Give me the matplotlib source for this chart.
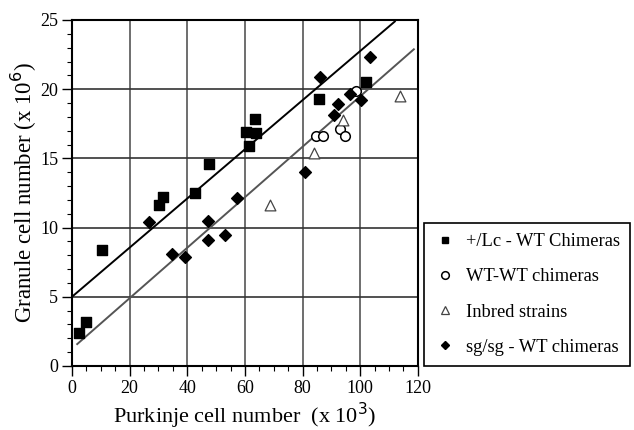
import matplotlib.pyplot as plt
import numpy as np
from matplotlib.ticker import MultipleLocator
from matplotlib.lines import Line2D

plt.rcParams['font.family'] = ['Liberation Serif', 'DejaVu Serif']

# +/Lc - WT chimeras
lc_x = [2.5, 4.9, 10.3, 30.3, 31.7, 42.8, 47.5, 60.4, 61.5, 63.5, 63.8, 85.6, 101.9]
lc_y = [2.4, 3.2, 8.4, 11.6, 12.2, 12.5, 14.6, 16.9, 15.9, 17.85, 16.8, 19.3, 20.5]

# WT-WT chimeras
wt_x = [84.6, 87.2, 93.0, 94.7, 98.5]
wt_y = [16.6, 16.6, 17.1, 16.6, 19.85]

# Inbred strains
inb_x = [68.7, 84.0, 93.9, 113.8]
inb_y = [11.6, 15.4, 17.8, 19.5]

# sg/sg - WT chimeras
sg_x = [26.7, 34.7, 39.2, 47.1, 47.1, 53.1, 57.3, 80.9, 86.2, 90.9, 92.3, 96.4, 100.2, 103.4]
sg_y = [10.4, 8.1, 7.85, 10.45, 9.1, 9.45, 12.15, 14.0, 20.9, 18.1, 18.95, 19.65, 19.2, 22.35]

# regression lines (intercept, slope, x range)
fit_lc = (5.0, 0.1776, 0, 112)
fit_rest = (1.25, 0.1824, 1.8, 118.6)

fig = plt.figure(figsize=(6.34, 4.30), dpi=100)
ax = fig.add_axes([0.1136, 0.149, 0.5455, 0.8045])

for xv in range(20, 120, 20):
    ax.axvline(xv, color='#555555', lw=1.2, zorder=0)
for yv in range(5, 25, 5):
    ax.axhline(yv, color='#333333', lw=1.2, zorder=0)

xs = np.linspace(fit_lc[2], fit_lc[3], 50)
ax.plot(xs, fit_lc[0] + fit_lc[1] * xs, color='black', lw=1.4, zorder=1)
xs = np.linspace(fit_rest[2], fit_rest[3], 50)
ax.plot(xs, fit_rest[0] + fit_rest[1] * xs, color='#555555', lw=1.4, zorder=1)

ax.scatter(lc_x, lc_y, marker='s', s=55, color='black', zorder=3)
ax.scatter(wt_x, wt_y, marker='o', s=48, facecolor='white', edgecolor='black',
           linewidth=1.1, zorder=3)
ax.scatter(inb_x, inb_y, marker='^', s=60, facecolor='white', edgecolor='#444444',
           linewidth=0.9, zorder=3)
ax.scatter(sg_x, sg_y, marker='D', s=36, color='black', zorder=3)

ax.set_xlim(0, 120)
ax.set_ylim(0, 25)
ax.xaxis.set_major_locator(MultipleLocator(20))
ax.xaxis.set_minor_locator(MultipleLocator(5))
ax.yaxis.set_major_locator(MultipleLocator(5))
ax.yaxis.set_minor_locator(MultipleLocator(1))
ax.tick_params(which='major', direction='out', length=7, width=1, labelsize=13, pad=3)
ax.tick_params(which='minor', direction='out', length=3.6, width=0.8)
for sp in ax.spines.values():
    sp.set_linewidth(1.5)

ax.set_xlabel('Purkinje cell number  (x 10$^3$)', fontsize=16, labelpad=3)
ax.set_ylabel('Granule cell number (x 10$^6$)', fontsize=16.5, labelpad=1)

handles = [
    Line2D([], [], ls='none', marker='s', ms=5, color='black'),
    Line2D([], [], ls='none', marker='o', ms=5.5, mfc='white', mec='black', mew=1.1),
    Line2D([], [], ls='none', marker='^', ms=6, mfc='white', mec='#444444', mew=0.9),
    Line2D([], [], ls='none', marker='D', ms=4.5, color='black'),
]
labels = ['+/Lc - WT Chimeras', 'WT-WT chimeras', 'Inbred strains', 'sg/sg - WT chimeras']
leg = fig.legend(handles, labels, loc='upper left', bbox_to_anchor=(0.669, 0.481),
                 fontsize=13.3, frameon=True, fancybox=False, edgecolor='black',
                 framealpha=1, borderaxespad=0, borderpad=0.55, handlelength=1.15,
                 handletextpad=0.55, labelspacing=0.98)
leg.get_frame().set_linewidth(1.2)

fig.savefig('out.png', dpi=100)
